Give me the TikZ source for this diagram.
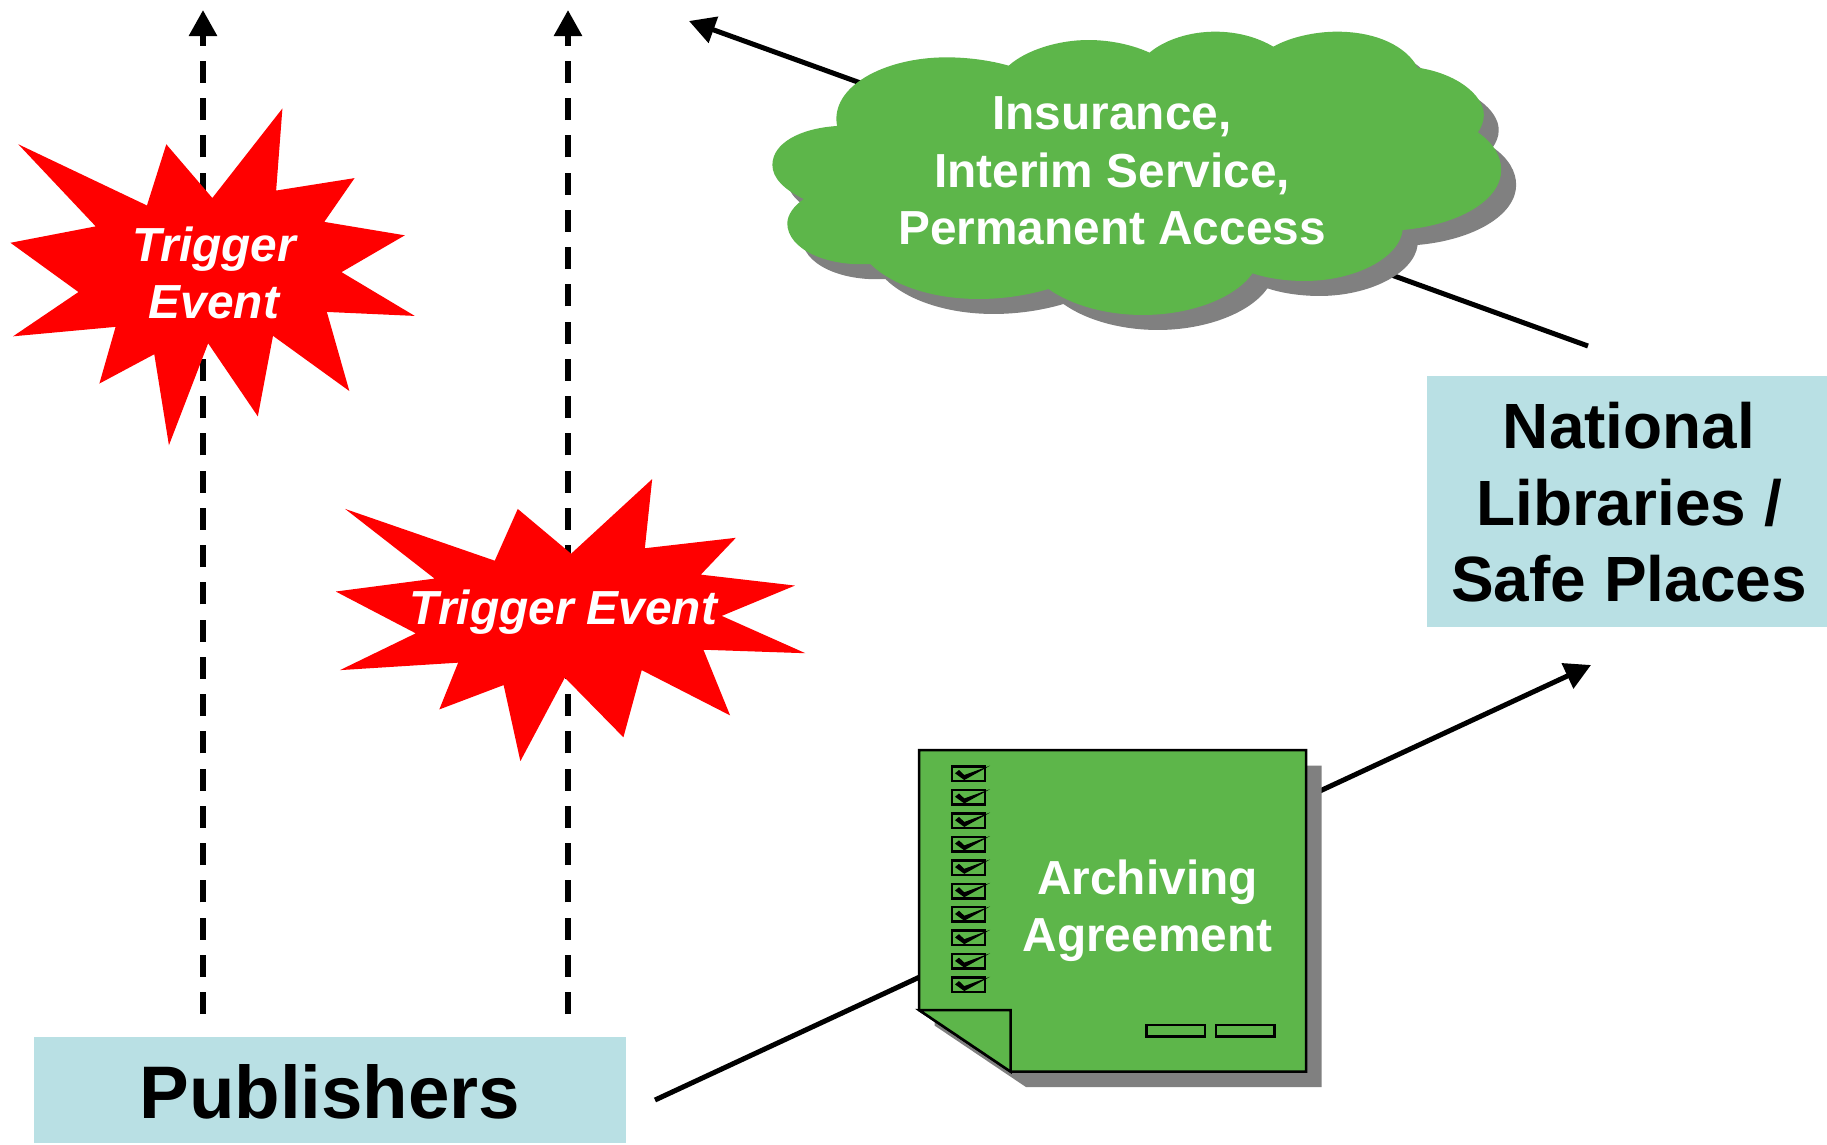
\documentclass[tikz,border=0pt]{standalone}
\usepackage{fontspec}
\setmainfont{Liberation Sans}
\usetikzlibrary{arrows.meta}
\definecolor{boxblue}{HTML}{B9E0E4}
\definecolor{docgreen}{HTML}{5DB64A}
\definecolor{shadowgray}{HTML}{808080}
\tikzset{
    flow/.style={line width=0.1cm,-{Triangle[length=0.52cm,width=0.54cm]}},
    trigger/.style={flow,line width=0.115cm,dash pattern=on 0.44cm off 0.305cm},
    infobox/.style={fill=boxblue,text=black,font=\bfseries,align=center,inner sep=0pt},
    whitetext/.style={text=white,font=\fontsize{27.2}{32.6}\selectfont\bfseries,align=center,inner sep=0pt},
    doc/.style={draw=black,line width=0.05cm,fill=docgreen}
}
\newcommand{\cloudpath}{(175,378) .. controls (160,260) and (270,172) .. (395,172) .. controls (440,172) and (485,182) .. (520,197)
    .. controls (555,150) and (620,120) .. (680,120) .. controls (725,120) and (770,135) .. (803,158)
    .. controls (835,118) and (885,95) .. (935,95) .. controls (980,95) and (1020,112) .. (1052,140)
    .. controls (1085,112) and (1135,95) .. (1180,95) .. controls (1260,95) and (1320,140) .. (1342,203)
    .. controls (1420,220) and (1475,285) .. (1475,345) .. controls (1475,365) and (1470,382) .. (1463,397)
    .. controls (1495,430) and (1510,470) .. (1510,510) .. controls (1510,600) and (1425,675) .. (1312,690)
    .. controls (1305,775) and (1215,843) .. (1115,843) .. controls (1078,843) and (1040,835) .. (1010,820)
    .. controls (975,895) and (885,945) .. (790,945) .. controls (715,945) and (645,915) .. (600,867)
    .. controls (560,885) and (510,897) .. (460,897) .. controls (365,897) and (285,855) .. (242,792)
    .. controls (150,800) and (75,745) .. (75,670) .. controls (75,645) and (88,618) .. (108,597)
    .. controls (70,570) and (45,535) .. (45,495) .. controls (45,430) and (100,385) .. (175,378) -- cycle}
\newcommand{\docpath}{(919,750) -- (1306,750) -- (1306,1071.7) -- (1010.7,1071.7) -- (919,1010) -- cycle}
\begin{document}
\begin{tikzpicture}[x=0.02cm,y=-0.02cm]
    \useasboundingbox (0,0) rectangle (1827,1144);

    \coordinate (triggerfoota) at (203,1014);
    \coordinate (triggertipa) at (203,10);
    \coordinate (triggerfootb) at (568,1014);
    \coordinate (triggertipb) at (568,10);
    \coordinate (pubout) at (655,1100);
    \coordinate (libin) at (1591,665);
    \coordinate (libout) at (1588,346);
    \coordinate (pubin) at (689,21);

    \draw[trigger] (triggerfoota) -- (triggertipa);
    \draw[trigger] (triggerfootb) -- (triggertipb);
    \draw[flow] (pubout) -- (libin);
    \draw[flow] (libout) -- (pubin);

    % bursts
    \begin{scope}[xscale=0.523,yscale=0.4975]
        \fill[red] (35,290) -- (183,455) -- (20,488) -- (150,587) -- (25,676) -- (221,657) -- (190,771) -- (295,712) -- (323,895) -- (398,690) -- (493,837) -- (522,675) -- (668,786) -- (625,627) -- (793,635) -- (653,547) -- (774,473) -- (620,446) -- (678,358) -- (528,383) -- (540,218) -- (406,398) -- (318,290) -- (281,413) -- cycle;
        \fill[red] (660,1023) -- (831,1163) -- (642,1189) -- (795,1273) -- (650,1347) -- (876,1332) -- (840,1426) -- (963,1377) -- (995,1530) -- (1080,1362) -- (1192,1482) -- (1227,1347) -- (1396,1438) -- (1345,1306) -- (1540,1313) -- (1380,1238) -- (1520,1177) -- (1340,1155) -- (1407,1081) -- (1233,1102) -- (1247,963) -- (1092,1113) -- (990,1023) -- (946,1127) -- cycle;
    \end{scope}
    \node[whitetext,font=\fontsize{27.2}{32.6}\selectfont\bfseries\itshape] (burstone) at (214,273) {Trigger\\Event};
    \node[whitetext,font=\fontsize{27.2}{32.6}\selectfont\bfseries\itshape] (bursttwo) at (563.5,612.5) {Trigger Event};

    % cloud
    \begin{scope}[shift={(750,0)},xscale=0.4975,yscale=0.3333]
        \fill[shadowgray,shift={(30,45)}] \cloudpath;
        \fill[docgreen] \cloudpath;
    \end{scope}
    \node[whitetext] (services) at (1112,171) {Insurance,\\Interim Service,\\Permanent Access};

    % agreement
    \fill[shadowgray,shift={(15.5,15.5)}] \docpath;
    \draw[doc] \docpath;
    \draw[doc,line join=miter] (919,1010) -- (1010.7,1010) -- (1010.7,1071.7) -- cycle;
    \foreach \i in {0,...,9} {
        \draw[black,line width=0.05cm] (952,766.5+23.45*\i) rectangle (985,781+23.45*\i);
        \fill[black] (955,773.3+23.45*\i) -- (959,770+23.45*\i) -- (964.3,775+23.45*\i) -- (990,765.7+23.45*\i) -- (964.3,780+23.45*\i) -- cycle;
    }
    \draw[doc] (1146.7,1025) rectangle (1205,1036.7);
    \draw[doc] (1216,1025) rectangle (1274.3,1036.7);
    \node[whitetext] (agreement) at (1147.5,910.5) {Archiving\\Agreement};

    % boxes
    \node[infobox,minimum width=11.84cm,minimum height=2.13cm,text height=1.4cm,text depth=0.28cm,font=\fontsize{42.4}{50}\selectfont\bfseries] (publishers) at (329.8,1090) {Publishers};
    \node[infobox,minimum width=8.08cm,minimum height=5.02cm,text height=4.35cm,text depth=0.33cm,font=\fontsize{36.4}{43.6}\selectfont\bfseries] (libraries) at (1629,501.5) {National\\Libraries /\\Safe Places};
\end{tikzpicture}
\end{document}
